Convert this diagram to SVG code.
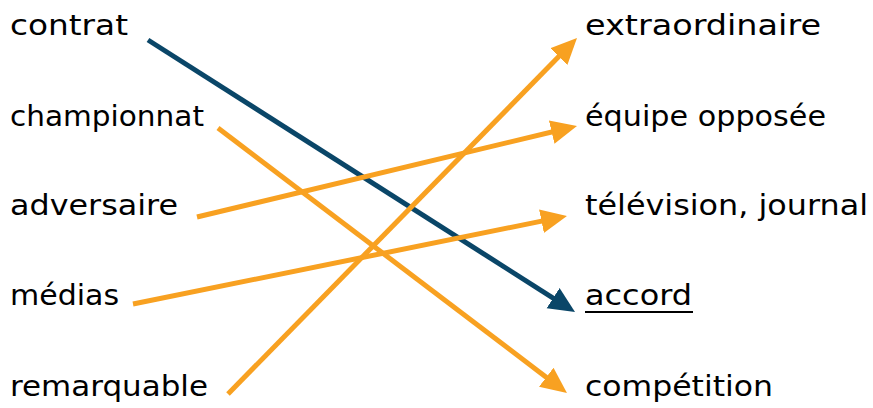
<svg xmlns="http://www.w3.org/2000/svg" width="873" height="408" viewBox="0 0 873 408">
<style>
.t{font-family:"DejaVu Sans","Liberation Sans",sans-serif;font-size:29px;fill:#000}
.o{stroke:#f8a121;stroke-width:5;fill:none}
.b{stroke:#0a4668;stroke-width:5;fill:none}
</style>
<defs>
<marker id="ao" markerUnits="userSpaceOnUse" markerWidth="30" markerHeight="30" refX="14" refY="12" orient="auto" viewBox="0 0 30 24">
<path d="M0,0 L26,12 L0,24 Z" fill="#f8a121"/>
</marker>
<marker id="ab" markerUnits="userSpaceOnUse" markerWidth="30" markerHeight="30" refX="14" refY="12" orient="auto" viewBox="0 0 30 24">
<path d="M0,0 L26,12 L0,24 Z" fill="#0a4668"/>
</marker>
</defs>
<rect width="873" height="408" fill="#fff"/>
<g id="left">
<g id="n-contrat"><text class="t" x="10" y="35" textLength="118" lengthAdjust="spacingAndGlyphs">contrat</text></g>
<g id="n-championnat"><text class="t" x="10" y="126" textLength="194" lengthAdjust="spacingAndGlyphs">championnat</text></g>
<g id="n-adversaire"><text class="t" x="10" y="215" textLength="168" lengthAdjust="spacingAndGlyphs">adversaire</text></g>
<g id="n-medias"><text class="t" x="10" y="305" textLength="109" lengthAdjust="spacingAndGlyphs">médias</text></g>
<g id="n-remarquable"><text class="t" x="10" y="396" textLength="198" lengthAdjust="spacingAndGlyphs">remarquable</text></g>
</g>
<g id="right">
<g id="n-extraordinaire"><text class="t" x="585" y="35" textLength="236" lengthAdjust="spacingAndGlyphs">extraordinaire</text></g>
<g id="n-equipe"><text class="t" x="585" y="126" textLength="241" lengthAdjust="spacingAndGlyphs">équipe opposée</text></g>
<g id="n-television"><text class="t" x="585" y="215" textLength="283" lengthAdjust="spacingAndGlyphs">télévision, journal</text></g>
<g id="n-accord"><text class="t" x="585" y="305" textLength="107" lengthAdjust="spacingAndGlyphs">accord</text><line x1="585" y1="312" x2="693" y2="312" stroke="#000" stroke-width="2"/></g>
<g id="n-competition"><text class="t" x="585" y="396" textLength="188" lengthAdjust="spacingAndGlyphs">compétition</text></g>
</g>
<g id="connectors">
<line class="b" x1="148" y1="40" x2="564.9" y2="305.6" marker-end="url(#ab)"/>
<line class="o" x1="218" y1="128" x2="557.4" y2="385.7" marker-end="url(#ao)"/>
<line class="o" x1="197" y1="217" x2="565.3" y2="128.8" marker-end="url(#ao)"/>
<line class="o" x1="133" y1="304" x2="555.2" y2="218.4" marker-end="url(#ao)"/>
<line class="o" x1="228" y1="394" x2="568.6" y2="46.6" marker-end="url(#ao)"/>
</g>
</svg>
